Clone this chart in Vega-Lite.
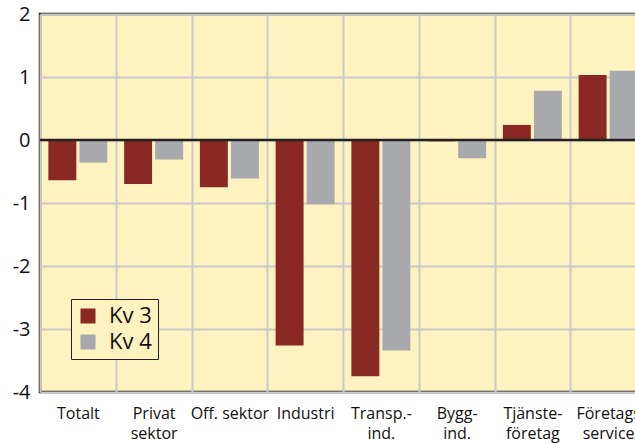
{
  "$schema": "https://vega.github.io/schema/vega-lite/v6.json",
  "width": 606,
  "height": 378,
  "autosize": {"type": "none"},
  "padding": {"left": 40, "top": 14, "right": 0, "bottom": 51},
  "background": "white",
  "config": {
    "font": "Open Sans",
    "view": {"stroke": "#1a1a1a", "strokeWidth": 2.5, "fill": "#fef2c1"}
  },
  "data": {
    "values": [
      {"kategori": "Totalt", "kvartal": "Kv 3", "value": -0.64},
      {"kategori": "Totalt", "kvartal": "Kv 4", "value": -0.36},
      {"kategori": "Privat|sektor", "kvartal": "Kv 3", "value": -0.70},
      {"kategori": "Privat|sektor", "kvartal": "Kv 4", "value": -0.31},
      {"kategori": "Off. sektor", "kvartal": "Kv 3", "value": -0.75},
      {"kategori": "Off. sektor", "kvartal": "Kv 4", "value": -0.61},
      {"kategori": "Industri", "kvartal": "Kv 3", "value": -3.26},
      {"kategori": "Industri", "kvartal": "Kv 4", "value": -1.02},
      {"kategori": "Transp.-|ind.", "kvartal": "Kv 3", "value": -3.75},
      {"kategori": "Transp.-|ind.", "kvartal": "Kv 4", "value": -3.34},
      {"kategori": "Bygg-|ind.", "kvartal": "Kv 3", "value": -0.02},
      {"kategori": "Bygg-|ind.", "kvartal": "Kv 4", "value": -0.29},
      {"kategori": "Tjänste-|företag", "kvartal": "Kv 3", "value": 0.24},
      {"kategori": "Tjänste-|företag", "kvartal": "Kv 4", "value": 0.78},
      {"kategori": "Företags|service", "kvartal": "Kv 3", "value": 1.03},
      {"kategori": "Företags|service", "kvartal": "Kv 4", "value": 1.10}
    ]
  },
  "layer": [
    {
      "mark": {"type": "bar"},
      "encoding": {
        "x": {
          "field": "kategori",
          "type": "nominal",
          "sort": null,
          "scale": {"paddingInner": 0, "paddingOuter": 0},
          "axis": {
            "title": null,
            "labelAngle": 0,
            "tickBand": "extent",
            "grid": true,
            "gridColor": "#c9c9c9",
            "gridWidth": 2,
            "ticks": false,
            "domain": false,
            "labelExpr": "isValid(datum.value) ? split(datum.value, '|') : ''",
            "labelFontSize": 16,
            "labelLineHeight": 20,
            "labelColor": "#111",
            "labelPadding": 13
          }
        },
        "xOffset": {
          "field": "kvartal",
          "type": "nominal",
          "scale": {"paddingInner": 0.1, "paddingOuter": 0.27}
        },
        "y": {
          "field": "value",
          "type": "quantitative",
          "scale": {"domain": [-4, 2], "nice": false, "zero": false},
          "axis": {
            "title": null,
            "values": [-4, -3, -2, -1, 0, 1, 2],
            "labelExpr": "toString(datum.value)",
            "grid": true,
            "gridColor": "#c9c9c9",
            "gridWidth": 2,
            "ticks": false,
            "domain": false,
            "labelFontSize": 20,
            "labelColor": "#111",
            "labelPadding": 10
          }
        },
        "color": {
          "field": "kvartal",
          "type": "nominal",
          "scale": {"domain": ["Kv 3", "Kv 4"], "range": ["#8a2823", "#a8a9ad"]},
          "legend": {
            "title": null,
            "orient": "none",
            "legendX": 31,
            "legendY": 285,
            "direction": "vertical",
            "fillColor": "#fef2c1",
            "strokeColor": "#222",
            "padding": 6,
            "labelFontSize": 22,
            "labelColor": "#111",
            "labelOffset": 10,
            "symbolType": "square",
            "symbolSize": 225,
            "symbolStrokeWidth": 0,
            "symbolOpacity": 1,
            "rowPadding": 4
          }
        }
      }
    },
    {
      "data": {"values": [{"nivå": 0}]},
      "mark": {"type": "rule", "color": "#222", "strokeWidth": 2.5},
      "encoding": {"y": {"field": "nivå", "type": "quantitative"}}
    }
  ]
}
